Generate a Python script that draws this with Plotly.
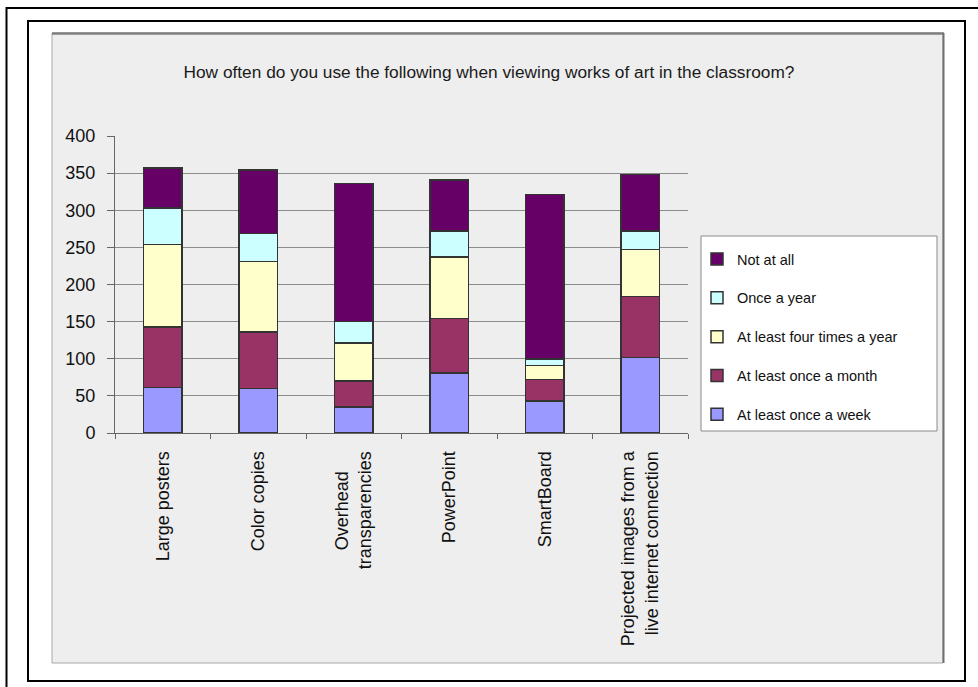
import plotly.graph_objects as go

# ---------------- data ----------------
categories = ["Large posters", "Color copies", "Overhead transparencies",
              "PowerPoint", "SmartBoard",
              "Projected images from a live internet connection"]
tick_labels = ["Large posters", "Color copies",
               "Overhead\u00a0\u00a0\u00a0\u00a0<br>transparencies",
               "PowerPoint", "SmartBoard",
               "Projected images from a<br>live internet connection"]
series_names = ["At least once a week", "At least once a month",
                "At least four times a year", "Once a year", "Not at all"]
week = [61, 60, 35, 81, 43, 102]
month = [82, 76, 35, 73, 29, 82]
four_times = [111, 95, 51, 83, 19, 63]
once_year = [49, 38, 29, 35, 9, 25]
not_at_all = [54, 85, 186, 69, 221, 76]
series_values = [week, month, four_times, once_year, not_at_all]
series_colors = ["#9999FF", "#993366", "#FFFFCC", "#CCFFFF", "#660066"]
y_ticks = [0, 50, 100, 150, 200, 250, 300, 350, 400]
title_text = "How often do you use the following when viewing works of art in the classroom?"

# ---------------- layout geometry (pixels) ----------------
W, H = 978, 687
L, R, T, B = 115, 290, 136, 254
PW = W - L - R
PH = H - T - B


def px2x(px):
    return (px - L) / PW


def py2y(py):
    return (H - B - py) / PH


FONT = "Arial, Liberation Sans, sans-serif"

fig = go.Figure()
n = len(series_names)
for i, (name, vals, col) in enumerate(zip(series_names, series_values, series_colors)):
    fig.add_trace(go.Bar(
        x=categories, y=vals, name=name, legendgroup=name,
        legendrank=n - i,
        marker=dict(color=col, line=dict(color="#333333", width=1.5)),
    ))

shapes = [
    # outer frame (cut by page edges)
    dict(type="rect", xref="paper", yref="paper", layer="below",
         x0=px2x(6.5), x1=px2x(1010), y0=py2y(8), y1=py2y(720),
         line=dict(color="black", width=2), fillcolor="white"),
    # inner frame
    dict(type="rect", xref="paper", yref="paper", layer="below",
         x0=px2x(28), x1=px2x(965), y0=py2y(21), y1=py2y(681),
         line=dict(color="black", width=2), fillcolor="white"),
    # grey chart panel
    dict(type="rect", xref="paper", yref="paper", layer="below",
         x0=px2x(52), x1=px2x(943), y0=py2y(33), y1=py2y(663),
         line=dict(color="#a8a8a8", width=1), fillcolor="#eeeeee"),
    dict(type="line", xref="paper", yref="paper", layer="below",
         x0=px2x(52), x1=px2x(944), y0=py2y(33.5), y1=py2y(33.5),
         line=dict(color="#808080", width=2.5)),
    dict(type="line", xref="paper", yref="paper", layer="below",
         x0=px2x(943.5), x1=px2x(943.5), y0=py2y(33), y1=py2y(663),
         line=dict(color="#707070", width=2)),
    # legend box
    dict(type="rect", xref="paper", yref="paper", layer="below",
         x0=px2x(701), x1=px2x(937), y0=py2y(236), y1=py2y(431),
         line=dict(color="#8a8a8a", width=1), fillcolor="white"),
]

fig.update_layout(
    width=W, height=H, autosize=False,
    margin=dict(l=L, r=R, t=T, b=B, pad=0),
    paper_bgcolor="white", plot_bgcolor="rgba(0,0,0,0)",
    barmode="stack", bargap=0.6,
    font=dict(family=FONT, size=18, color="#111111"),
    title=dict(text=title_text, xref="paper", x=px2x(489), xanchor="center",
               yref="container", y=1 - 72 / H, yanchor="middle",
               font=dict(family=FONT, size=17.3, color="#1a1a1a")),
    shapes=shapes,
    showlegend=True,
    legend=dict(x=px2x(697), y=py2y(243), xanchor="left", yanchor="top",
                bgcolor="rgba(0,0,0,0)", borderwidth=0,
                traceorder="grouped", tracegroupgap=17,
                font=dict(family=FONT, size=14.5, color="#111111")),
)
fig.update_xaxes(
    tickmode="array", tickvals=categories, ticktext=tick_labels,
    tickangle=-90, tickson="boundaries", ticks="outside", ticklen=5,
    tickcolor="#666666", showline=True, linecolor="#666666", linewidth=1,
    showgrid=False, ticklabelstandoff=10,
    tickfont=dict(family=FONT, size=18, color="#111111"),
)
fig.update_yaxes(
    range=[0, 400], tickmode="array", tickvals=y_ticks,
    ticks="outside", ticklen=7, tickcolor="#666666",
    showline=True, linecolor="#666666", linewidth=1,
    showgrid=True, gridcolor="#8c8c8c", gridwidth=1, zeroline=False,
    ticklabelstandoff=8,
    tickfont=dict(family=FONT, size=18, color="#111111"),
)

fig.write_html("out.html", config={"displayModeBar": False})
